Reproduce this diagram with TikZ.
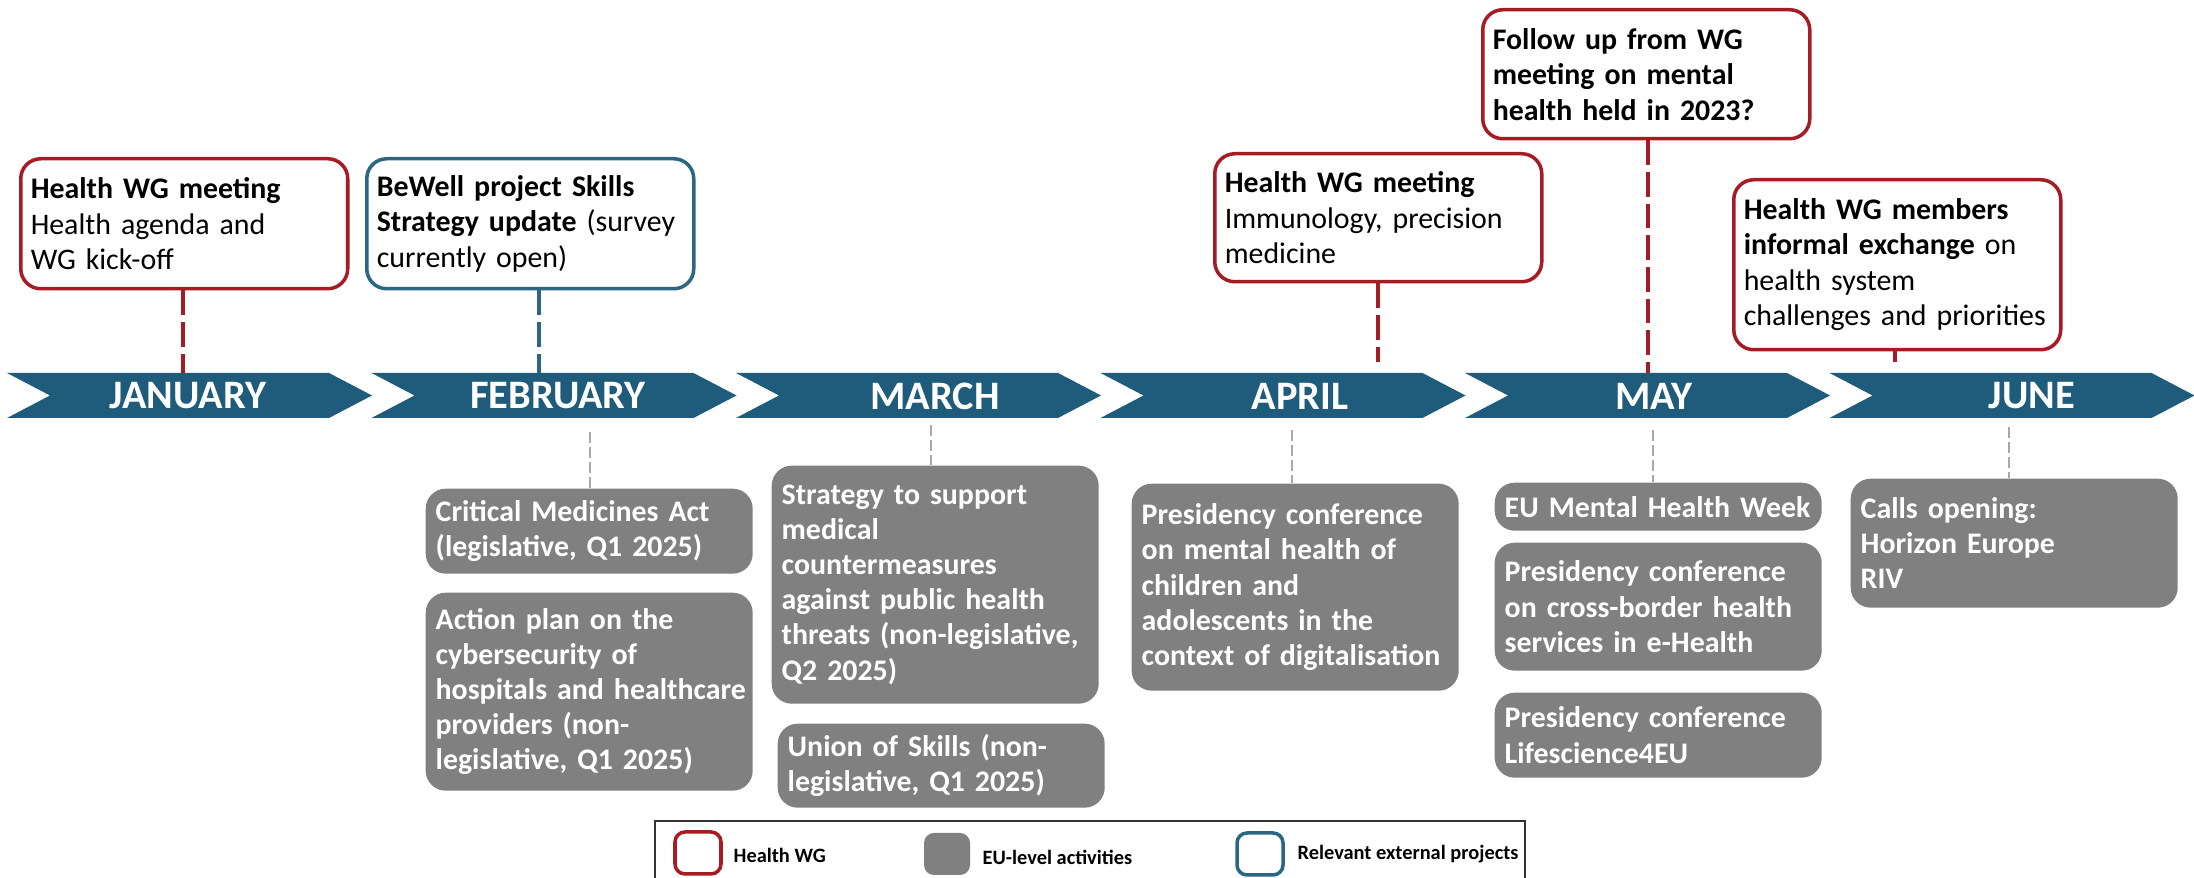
\documentclass[tikz,border=0pt]{standalone}
\usepackage{fontspec}
\setmainfont{Carlito}
\hyphenpenalty=10000
\exhyphenpenalty=10000
\hfuzz=20pt
\definecolor{band}{HTML}{1F5C7B}
\definecolor{wgred}{HTML}{A61C24}
\definecolor{extblue}{HTML}{2B6683}
\definecolor{eugray}{HTML}{808080}
\definecolor{conngray}{HTML}{A8A8A8}
\definecolor{legframe}{HTML}{333333}
\newcommand\bxfont{\fontsize{8.5}{10.1}\selectfont}
\newcommand\gxfont{\fontsize{8.5}{10}\selectfont\bfseries}
\newcommand\mxfont{\fontsize{11.5}{12}\selectfont\bfseries}
\newcommand\lxfont{\fontsize{5.8}{7}\selectfont\bfseries}
\begin{document}
\begin{tikzpicture}[x=0.1mm,y=-0.1mm,
  topbox/.style={draw=#1, line width=1pt, rounded corners=2mm, fill=white, align=left,
    anchor=north west, inner xsep=1.0mm, inner ysep=0.5mm, text width=30.7mm,
    minimum width=32.7mm, font=\bxfont},
  eubox/.style={fill=eugray, text=white, rounded corners=2mm, align=left, anchor=north west,
    inner xsep=1.0mm, inner ysep=0.5mm, text width=30.7mm, minimum width=32.7mm, font=\gxfont},
  topconn/.style={draw=#1, line width=0.9pt, dash pattern=on 7pt off 2pt},
  euconn/.style={draw=conngray, line width=0.6pt, dash pattern=on 3pt off 1.3pt},
  month/.style={text=white, font=\mxfont, inner sep=0pt},
  legsq/.style={minimum width=4.6mm, minimum height=4.2mm, rounded corners=1mm, inner sep=0pt},
  legtext/.style={anchor=west, font=\lxfont, inner sep=0pt}
]
\useasboundingbox (0,0) rectangle (2194,878);

% chevron band
\foreach \i in {0,...,5}{
  \pgfmathsetmacro{\L}{7+364.5*\i}
  \fill[band] (\L,373) -- ({\L+322},373) -- ({\L+365},395.5) -- ({\L+322},418)
     -- (\L,418) -- ({\L+43},395.5) -- cycle;
}
\node[month] (mjan) at (188,396) {JANUARY};
\node[month] (mfeb) at (558,396) {FEBRUARY};
\node[month] (mmar) at (935,396) {MARCH};
\node[month] (mapr) at (1300,396) {APRIL};
\node[month] (mmay) at (1654,396) {MAY};
\node[month] (mjun) at (2032,396) {JUNE};

% top boxes
\node[topbox=wgred, minimum height=13mm] (jan) at (19,157)
  {\textbf{Health WG meeting}\\Health agenda and\\WG kick-off};
\node[topbox=extblue, minimum height=13mm] (bewell) at (365,157)
  {\textbf{BeWell project Skills}\\\textbf{Strategy update} (survey\\currently open)};
\node[topbox=wgred, minimum height=12.8mm] (apr) at (1213,152)
  {\textbf{Health WG meeting}\\Immunology, precision\\medicine};
\node[topbox=wgred, minimum height=12.9mm] (may) at (1481,8)
  {\textbf{Follow up from WG}\\\textbf{meeting on mental}\\\textbf{health held in 2023?}};
\node[topbox=wgred, minimum height=17mm] (jun) at (1732,178)
  {\textbf{Health WG members}\\\textbf{informal exchange} on\\health system\\\mbox{challenges and priorities}};

% top connectors
\coordinate (cjan) at (183,373);
\coordinate (cfeb) at (539,373);
\coordinate (capr) at (1378,362);
\coordinate (cmay) at (1648,373);
\coordinate (cjun) at (1895,362);
\draw[topconn=wgred] (jan.south -| cjan) -- (cjan);
\draw[topconn=extblue] (bewell.south -| cfeb) -- (cfeb);
\draw[topconn=wgred] (apr.south -| capr) -- (capr);
\draw[topconn=wgred] (may.south -| cmay) -- (cmay);
\draw[topconn=wgred] (jun.south -| cjun) -- (cjun);

% EU-level boxes
\node[eubox, minimum height=8.5mm] (crit) at (425,488)
  {Critical Medicines Act\\(legislative, Q1 2025)};
\node[eubox, minimum height=19.8mm] (action) at (425,592)
  {Action plan on the\\cybersecurity of\\\mbox{hospitals and healthcare}\\providers (non-\\legislative, Q1 2025)};
\node[eubox, minimum height=23.8mm] (strat) at (771,465)
  {Strategy to support\\medical\\countermeasures\\against public health\\\mbox{threats (non-legislative,}\\Q2 2025)};
\node[eubox, minimum height=8.4mm] (union) at (777,723)
  {Union of Skills (non-\\legislative, Q1 2025)};
\node[eubox, minimum height=20.7mm] (aprg) at (1131,483)
  {Presidency conference\\on mental health of\\children and\\adolescents in the\\\mbox{context of digitalisation}};
\node[eubox, minimum height=4.8mm] (may1) at (1494,482)
  {\mbox{EU Mental Health Week}};
\node[eubox, minimum height=12.8mm] (may2) at (1494,542)
  {Presidency conference\\on cross-border health\\services in e-Health};
\node[eubox, minimum height=8.5mm] (may3) at (1494,692)
  {Presidency conference\\Lifescience4EU};
\node[eubox, minimum height=12.9mm] (calls) at (1850,478)
  {Calls opening:\\Horizon Europe\\RIV};

% EU connectors
\coordinate (gfeb) at (590,432);
\coordinate (gmar) at (931,425);
\coordinate (gapr) at (1292,430);
\coordinate (gmay) at (1653,430);
\coordinate (gjun) at (2009,427);
\draw[euconn] (gfeb) -- (crit.north -| gfeb);
\draw[euconn] (gmar) -- (strat.north -| gmar);
\draw[euconn] (gapr) -- (aprg.north -| gapr);
\draw[euconn] (gmay) -- (may1.north -| gmay);
\draw[euconn] (gjun) -- (calls.north -| gjun);

% legend
\draw[legframe, line width=0.7pt] (655,821) rectangle (1525,900);
\node[legsq, draw=wgred, line width=1pt] (lwg) at (698,853) {};
\node[legtext] (twg) at (733,855) {Health WG};
\node[legsq, fill=eugray] (leu) at (947,854) {};
\node[legtext] (teu) at (982,857) {EU-level activities};
\node[legsq, draw=extblue, line width=1pt] (lext) at (1260,854) {};
\node[legtext] (text) at (1297,854) {Relevant external projects};
\end{tikzpicture}
\end{document}
